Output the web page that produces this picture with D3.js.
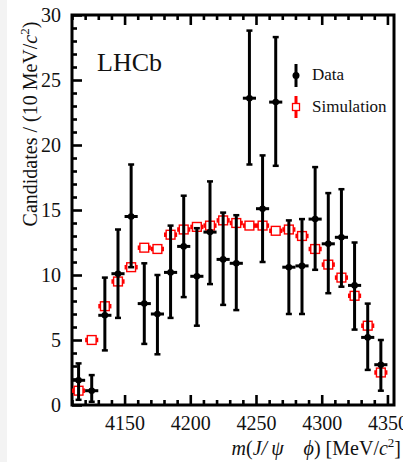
<!DOCTYPE html>
<html>
<head>
<meta charset="utf-8">
<script src="https://cdn.jsdelivr.net/npm/d3@7"></script>
<style>
  html, body { margin: 0; padding: 0; background: #fff; }
  svg { display: block; font-family: "Liberation Serif", "DejaVu Serif", serif; }
</style>
</head>
<body>
<svg id="chart" width="403" height="462"></svg>
<script>
// Bin centres of m(J/psi phi) in MeV/c^2 (10 MeV bins)
const binCentres = [4115, 4125, 4135, 4145, 4155, 4165, 4175, 4185, 4195, 4205, 4215, 4225,
                    4235, 4245, 4255, 4265, 4275, 4285, 4295, 4305, 4315, 4325, 4335, 4345];
// Observed candidates per bin, with lower and upper ends of the error bars
const dataCounts = [1.9, 1.1, 6.9, 10.1, 14.5, 7.8, 7.0, 10.2, 12.2, 9.9, 13.3, 11.2,
                    10.9, 23.6, 15.1, 23.3, 10.6, 10.7, 14.3, 12.4, 12.9, 9.2, 5.2, 3.1];
const dataLow    = [0.4, 0.25, 4.2, 6.7, 10.6, 4.7, 3.9, 6.7, 8.3, 6.1, 9.3, 7.7,
                    7.3, 18.5, 11.0, 18.4, 7.0, 7.0, 10.4, 8.6, 9.1, 5.8, 2.7, 1.1];
const dataHigh   = [3.2, 2.3, 9.8, 13.5, 18.5, 10.9, 10.0, 13.8, 16.1, 13.6, 17.2, 14.8,
                    14.6, 28.8, 19.2, 28.3, 14.2, 14.3, 18.3, 16.3, 16.6, 12.5, 7.8, 5.0];
// Simulated distribution, normalised to the data
const simCounts  = [1.1, 5.0, 7.6, 9.5, 10.6, 12.1, 12.0, 13.1, 13.5, 13.7, 13.8, 14.2,
                    14.0, 13.8, 13.8, 13.4, 13.5, 13.0, 12.0, 10.8, 9.8, 8.4, 6.1, 2.5];
const xMajorTicks = [4150, 4200, 4250, 4300, 4350];
const yMajorTicks = [0, 5, 10, 15, 20, 25, 30];
const binWidth = 10;

const svg = d3.select("#chart");
const pLeft = 72, pRight = 394, pTop = 15, pBottom = 405;

const x = d3.scaleLinear().domain([4110, 4355]).range([pLeft, pRight]);
const y = d3.scaleLinear().domain([0, 30]).range([pBottom, pTop]);

// faint strip at the page edge
svg.append("rect").attr("x", 0).attr("y", 0).attr("width", 7).attr("height", 462).attr("fill", "#f3f3f3");

const xMinor = d3.range(4110, 4356, 10).filter(v => !xMajorTicks.includes(v));
const yMinor = d3.range(0, 31, 1).filter(v => !yMajorTicks.includes(v));

function styleAxis(g) {
  g.select(".domain").remove();
  g.selectAll(".tick line").attr("stroke", "#000").attr("stroke-width", 2.6);
  g.selectAll(".tick text").attr("fill", "#111").attr("font-size", 20)
    .attr("font-family", "Liberation Serif, DejaVu Serif, serif");
}

// bottom axis: major + minor inward ticks
svg.append("g").attr("transform", `translate(0,${pBottom})`)
  .call(d3.axisBottom(x).tickValues(xMajorTicks).tickSize(-10).tickPadding(11).tickFormat(d3.format("d")))
  .call(styleAxis);
svg.append("g").attr("transform", `translate(0,${pBottom})`)
  .call(d3.axisBottom(x).tickValues(xMinor).tickSize(-5).tickFormat(""))
  .call(styleAxis);
// top axis
svg.append("g").attr("transform", `translate(0,${pTop})`)
  .call(d3.axisTop(x).tickValues(xMajorTicks).tickSize(-10).tickFormat(""))
  .call(styleAxis);
svg.append("g").attr("transform", `translate(0,${pTop})`)
  .call(d3.axisTop(x).tickValues(xMinor).tickSize(-5).tickFormat(""))
  .call(styleAxis);
// left axis
svg.append("g").attr("transform", `translate(${pLeft},0)`)
  .call(d3.axisLeft(y).tickValues(yMajorTicks).tickSize(-10).tickPadding(11).tickFormat(d3.format("d")))
  .call(styleAxis);
svg.append("g").attr("transform", `translate(${pLeft},0)`)
  .call(d3.axisLeft(y).tickValues(yMinor).tickSize(-5).tickFormat(""))
  .call(styleAxis);

// frame
svg.append("rect").attr("x", pLeft).attr("y", pTop).attr("width", pRight - pLeft).attr("height", pBottom - pTop)
  .attr("fill", "none").attr("stroke", "#000").attr("stroke-width", 3);

const plot = svg.append("g");
const halfBin = (x(4110 + binWidth) - x(4110)) / 2;

// simulation: red open squares with bin-width bars
const sim = plot.append("g").selectAll("g").data(binCentres).join("g")
  .attr("transform", (d, i) => `translate(${x(d)},${y(simCounts[i])})`);
sim.append("line").attr("x1", -halfBin).attr("x2", halfBin)
  .attr("stroke", "#f00").attr("stroke-width", 4.5);
sim.append("rect").attr("x", -4.4).attr("y", -4.4).attr("width", 8.8).attr("height", 8.8)
  .attr("fill", "#fff").attr("stroke", "#f00").attr("stroke-width", 1.4);

// data: black points with error bars
const dat = plot.append("g").selectAll("g").data(binCentres).join("g");
dat.append("line")
  .attr("x1", d => x(d)).attr("x2", d => x(d))
  .attr("y1", (d, i) => y(dataLow[i])).attr("y2", (d, i) => y(dataHigh[i]))
  .attr("stroke", "#000").attr("stroke-width", 3);
dat.append("line")
  .attr("x1", d => x(d) - halfBin).attr("x2", d => x(d) + halfBin)
  .attr("y1", (d, i) => y(dataCounts[i])).attr("y2", (d, i) => y(dataCounts[i]))
  .attr("stroke", "#000").attr("stroke-width", 3);
[dataLow, dataHigh].forEach(arr => {
  dat.append("line")
    .attr("x1", d => x(d) - 3).attr("x2", d => x(d) + 3)
    .attr("y1", (d, i) => y(arr[i])).attr("y2", (d, i) => y(arr[i]))
    .attr("stroke", "#000").attr("stroke-width", 2.5);
});
dat.append("circle").attr("cx", d => x(d)).attr("cy", (d, i) => y(dataCounts[i]))
  .attr("r", 3.3).attr("fill", "#000");

// LHCb label
svg.append("text").attr("x", 97).attr("y", 71).attr("font-size", 26).attr("fill", "#111").text("LHCb");

// legend
const lx = 296;
svg.append("line").attr("x1", lx).attr("x2", lx).attr("y1", 64).attr("y2", 87)
  .attr("stroke", "#000").attr("stroke-width", 3);
svg.append("circle").attr("cx", lx).attr("cy", 75.5).attr("r", 3.5).attr("fill", "#000");
svg.append("text").attr("x", 312).attr("y", 80).attr("font-size", 17).attr("fill", "#111").text("Data");
svg.append("line").attr("x1", lx).attr("x2", lx).attr("y1", 96).attr("y2", 118)
  .attr("stroke", "#f00").attr("stroke-width", 3);
svg.append("rect").attr("x", lx - 3.5).attr("y", 103.5).attr("width", 7).attr("height", 7)
  .attr("fill", "#fff").attr("stroke", "#f00").attr("stroke-width", 1.3);
svg.append("text").attr("x", 312).attr("y", 112).attr("font-size", 17).attr("fill", "#111").text("Simulation");

// axis titles
const yt = svg.append("text").attr("transform", "translate(37,124) rotate(-90)")
  .attr("text-anchor", "middle").attr("font-size", 20).attr("fill", "#111");
yt.append("tspan").text("Candidates / (10 MeV/");
yt.append("tspan").attr("font-style", "italic").text("c");
yt.append("tspan").attr("font-size", 13).attr("dy", -8).text("2");
yt.append("tspan").attr("dy", 8).text(")");

const xt = svg.append("text").attr("x", 401).attr("y", 455)
  .attr("text-anchor", "end").attr("font-size", 20).attr("fill", "#111");
xt.append("tspan").attr("font-style", "italic").text("m");
xt.append("tspan").text("(");
xt.append("tspan").attr("font-style", "italic").text("J/\u2009\u03C8");
xt.append("tspan").text("\u2003");
xt.append("tspan").attr("font-style", "italic").text("\u03D5");
xt.append("tspan").text(") [MeV/");
xt.append("tspan").attr("font-style", "italic").text("c");
xt.append("tspan").attr("font-size", 13).attr("dy", -8).text("2");
xt.append("tspan").attr("dy", 8).text("]");
</script>
</body>
</html>
